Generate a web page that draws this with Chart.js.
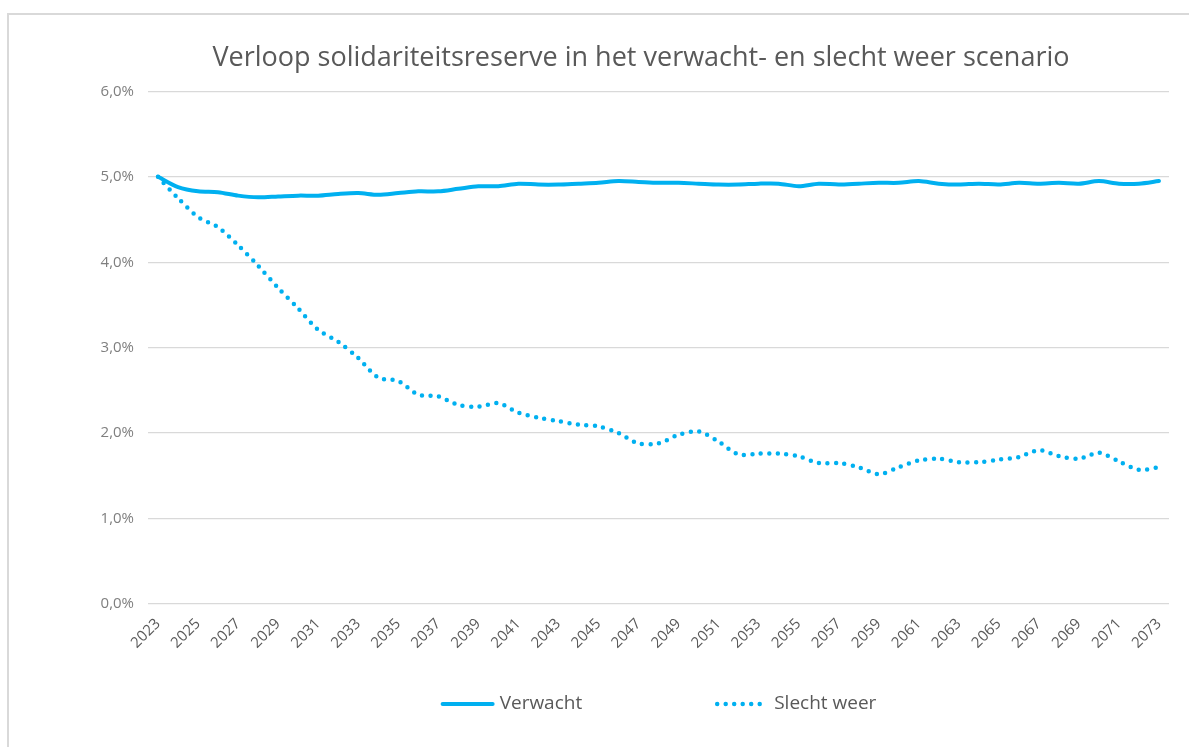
<!DOCTYPE html>
<html lang="nl">
<head>
<meta charset="utf-8">
<title>Verloop solidariteitsreserve</title>
<script src="https://cdn.jsdelivr.net/npm/chart.js@4.4.1/dist/chart.umd.min.js"></script>
<style>
  html, body { margin: 0; padding: 0; background: #fff; overflow: hidden; }
  #kader {
    position: absolute;
    left: 7px;
    top: 13px;
    width: 1264px;
    height: 732px;
    border-left: 2px solid #d9d9d9;
    border-top: 2px solid #d9d9d9;
  }
</style>
</head>
<body>
<div id="kader"><canvas id="chart"></canvas></div>
<script>
// jaren 2023 t/m 2073
const jaren = [
  '2023','2024','2025','2026','2027','2028','2029','2030','2031','2032',
  '2033','2034','2035','2036','2037','2038','2039','2040','2041','2042',
  '2043','2044','2045','2046','2047','2048','2049','2050','2051','2052',
  '2053','2054','2055','2056','2057','2058','2059','2060','2061','2062',
  '2063','2064','2065','2066','2067','2068','2069','2070','2071','2072',
  '2073'
];

const verwacht = [
  5.00, 4.88, 4.83, 4.82, 4.78, 4.76, 4.77, 4.78, 4.78, 4.80,
  4.81, 4.79, 4.81, 4.83, 4.83, 4.86, 4.89, 4.89, 4.92, 4.91,
  4.91, 4.92, 4.93, 4.95, 4.94, 4.93, 4.93, 4.92, 4.91, 4.91,
  4.92, 4.92, 4.89, 4.92, 4.91, 4.92, 4.93, 4.93, 4.95, 4.92,
  4.91, 4.92, 4.91, 4.93, 4.92, 4.93, 4.92, 4.95, 4.92, 4.92,
  4.95
];

const slechtWeer = [
  5.00, 4.75, 4.53, 4.41, 4.20, 3.96, 3.70, 3.46, 3.21, 3.07,
  2.88, 2.65, 2.61, 2.45, 2.43, 2.33, 2.31, 2.35, 2.24, 2.18,
  2.14, 2.10, 2.08, 2.00, 1.88, 1.88, 1.98, 2.02, 1.90, 1.75,
  1.76, 1.76, 1.73, 1.65, 1.65, 1.60, 1.52, 1.60, 1.68, 1.70,
  1.66, 1.66, 1.69, 1.72, 1.80, 1.73, 1.70, 1.77, 1.67, 1.57,
  1.60
];

const yTicks = [0, 1, 2, 3, 4, 5, 6];

const blauw = '#00b0f0';
const grijs = '#595959';
const lettertype = "'Open Sans', sans-serif";

// legenda onderaan, zoals in Excel (ruime afstand tussen de items)
const legendaOnder = {
  id: 'legendaOnder',
  afterDraw(chart, args, opts) {
    const ctx = chart.ctx;
    const area = chart.chartArea;
    const y = area.bottom + opts.offsetY;
    ctx.save();
    ctx.font = opts.fontSize + 'px ' + lettertype;
    const items = chart.data.datasets.map(ds => ({
      ds: ds,
      w: opts.lineLength + opts.textGap + ctx.measureText(ds.label).width
    }));
    let totaal = opts.gap * (items.length - 1);
    items.forEach(it => totaal += it.w);
    let x = (area.left + area.right) / 2 + opts.offsetX - totaal / 2;
    items.forEach(it => {
      ctx.strokeStyle = it.ds.borderColor;
      ctx.lineWidth = it.ds.borderWidth;
      ctx.lineCap = it.ds.borderCapStyle || 'butt';
      ctx.setLineDash(it.ds.borderDash || []);
      ctx.beginPath();
      ctx.moveTo(x, y);
      ctx.lineTo(x + opts.lineLength, y);
      ctx.stroke();
      ctx.setLineDash([]);
      ctx.fillStyle = grijs;
      ctx.textAlign = 'left';
      ctx.textBaseline = 'middle';
      ctx.fillText(it.ds.label, x + opts.lineLength + opts.textGap, y);
      x += it.w + opts.gap;
    });
    ctx.restore();
  }
};

new Chart('chart', {
  type: 'line',
  data: {
    labels: jaren,
    datasets: [{
      label: 'Verwacht',
      data: verwacht,
      borderColor: blauw,
      backgroundColor: blauw,
      borderWidth: 4,
      borderCapStyle: 'round',
      pointRadius: 0,
      tension: 0.3
    }, {
      label: 'Slecht weer',
      data: slechtWeer,
      borderColor: blauw,
      backgroundColor: blauw,
      borderWidth: 4.5,
      borderDash: [0, 8.5],
      borderCapStyle: 'round',
      pointRadius: 0,
      tension: 0.3
    }]
  },
  options: {
    responsive: true,
    maintainAspectRatio: false,
    animation: false,
    layout: {
      padding: 0
    },
    plugins: {
      legend: { display: false },
      tooltip: { enabled: false },
      title: {
        display: true,
        text: 'Verloop solidariteitsreserve in het verwacht- en slecht weer scenario',
        color: grijs,
        font: { family: lettertype, size: 27, weight: 'normal' },
        padding: { top: 27, bottom: 17 }
      },
      legendaOnder: {
        offsetY: 100,
        offsetX: 1,
        fontSize: 19,
        lineLength: 50,
        textGap: 7,
        gap: 135
      }
    },
    scales: {
      x: {
        offset: true,
        grid: { display: false, drawTicks: false },
        border: { display: false },
        ticks: {
          autoSkip: false,
          minRotation: 45,
          maxRotation: 45,
          padding: 11,
          color: grijs,
          font: { family: lettertype, size: 15 },
          callback: function (val, i) {
            return i % 2 === 0 ? jaren[i] : '';
          }
        },
        afterFit: function (scale) {
          scale.height = 143;
        }
      },
      y: {
        min: 0,
        max: 6,
        grid: { color: '#d9d9d9', lineWidth: 1.3, drawTicks: false },
        border: { display: false },
        ticks: {
          stepSize: 1,
          padding: 14,
          color: '#7f7f7f',
          font: { family: lettertype, size: 15 },
          callback: function (v) {
            return yTicks.includes(v) ? v.toFixed(1).replace('.', ',') + '%' : '';
          }
        },
        afterFit: function (scale) {
          scale.width = 139;
        }
      },
      // lege as rechts: de grafiek is rechts afgesneden, de titel blijft over het hele kader gecentreerd
      rechts: {
        type: 'linear',
        position: 'right',
        grid: { display: false },
        border: { display: false },
        ticks: { display: false },
        afterFit: function (scale) {
          scale.width = 104;
        }
      }
    }
  },
  plugins: [legendaOnder]
});
</script>
</body>
</html>
